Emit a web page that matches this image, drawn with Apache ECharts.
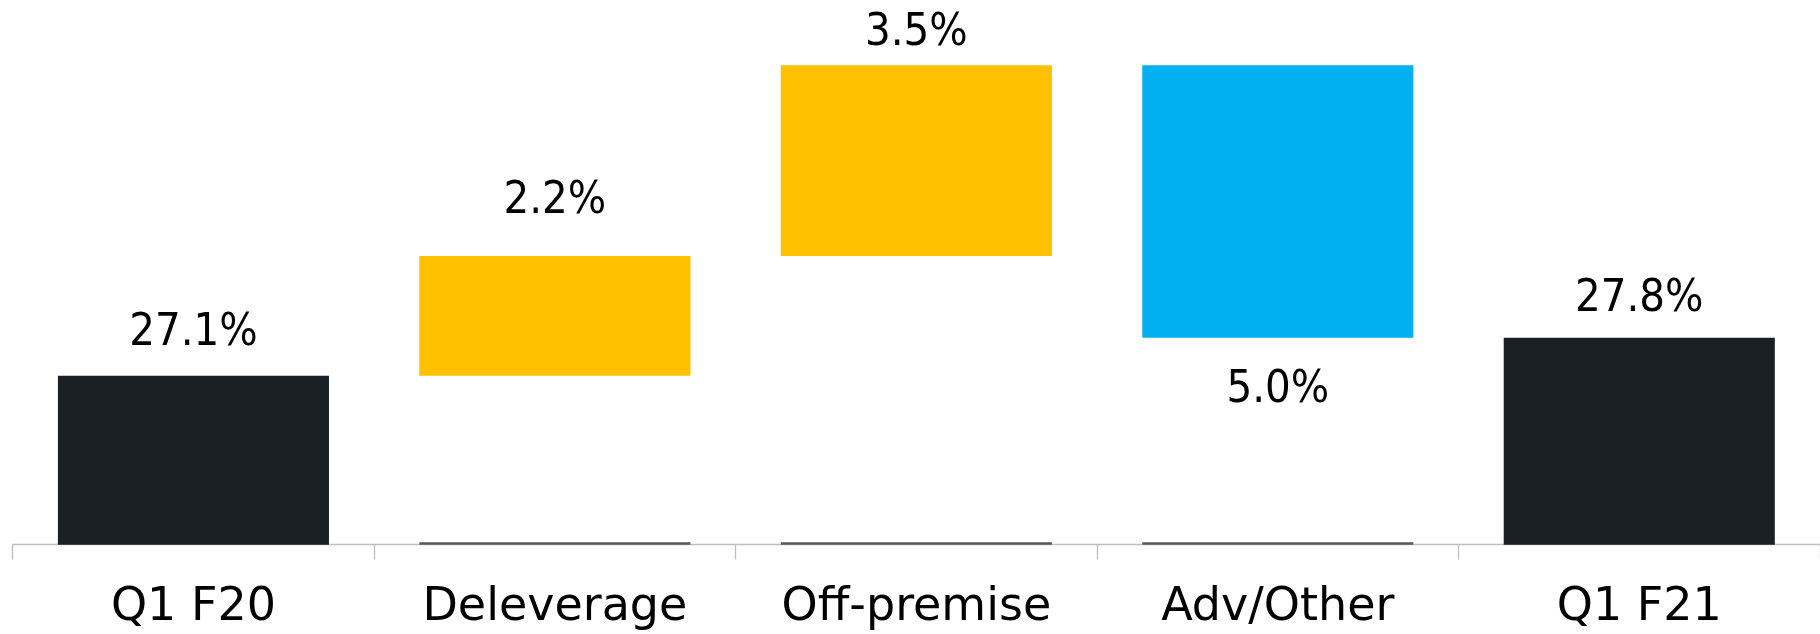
<!DOCTYPE html>
<html>
<head>
<meta charset="utf-8">
<script src="https://cdn.jsdelivr.net/npm/echarts@6/dist/echarts.min.js"></script>
<style>
html,body{margin:0;padding:0;background:#fff;}
#chart{width:1820px;height:634px;}
</style>
</head>
<body>
<div id="chart"></div>
<script>
var categories = ['Q1 F20', 'Deleverage', 'Off-premise', 'Adv/Other', 'Q1 F21'];
var baseValues = [0, 27.1, 29.3, 27.8, 0];
var deltaValues = [27.1, 2.2, 3.5, 5.0, 27.8];
var isStep = [false, true, true, true, false];
var axisMin = 24, axisMax = 34;

// styling (not data)
var barColors = ['#1A2024', '#FFC000', '#FFC000', '#00B0F0', '#1A2024'];
var labelPositions = ['top', 'top', 'top', 'bottom', 'top'];
var labelDistances = [20, 32, 10, 30, 16];

var chart = echarts.init(document.getElementById('chart'), null, {renderer: 'canvas'});

var valueData = deltaValues.map(function (v, i) {
  return {
    value: v,
    itemStyle: {color: barColors[i]},
    label: {position: labelPositions[i], distance: labelDistances[i]}
  };
});
var lineData = isStep.map(function (s) { return s ? axisMin + 0.045 : null; });

chart.setOption({
  animation: false,
  backgroundColor: '#ffffff',
  grid: {left: 12.7, width: 1810, top: 0, height: 544.7, containLabel: false},
  xAxis: {
    type: 'category',
    data: categories,
    axisLine: {show: true, lineStyle: {color: '#BFBFBF', width: 1.3}},
    axisTick: {show: true, length: 15, lineStyle: {color: '#BFBFBF', width: 1.3}},
    axisLabel: {
      color: '#000000',
      fontFamily: 'DejaVu Sans',
      fontSize: 46,
      margin: 40,
      interval: 0
    },
    splitLine: {show: false}
  },
  yAxis: {
    type: 'value',
    min: axisMin,
    max: axisMax,
    show: false,
    splitLine: {show: false}
  },
  series: [
    {
      name: 'base',
      type: 'bar',
      stack: 'wf',
      barWidth: '75%',
      barGap: '-100%',
      itemStyle: {color: 'rgba(0,0,0,0)'},
      emphasis: {disabled: true},
      data: baseValues,
      clip: true
    },
    {
      name: 'delta',
      type: 'bar',
      stack: 'wf',
      barWidth: '75%',
      barGap: '-100%',
      data: valueData,
      clip: true,
      label: {
        show: true,
        color: '#000000',
        fontFamily: 'DejaVu Sans Condensed, DejaVu Sans',
        fontSize: 45,
        formatter: function (p) { return p.value.toFixed(1) + '%'; }
      }
    },
    {
      name: 'baseline',
      type: 'bar',
      barWidth: '75%',
      barGap: '-100%',
      itemStyle: {color: '#595959'},
      data: lineData,
      clip: true,
      z: 3
    }
  ]
});
</script>
</body>
</html>
